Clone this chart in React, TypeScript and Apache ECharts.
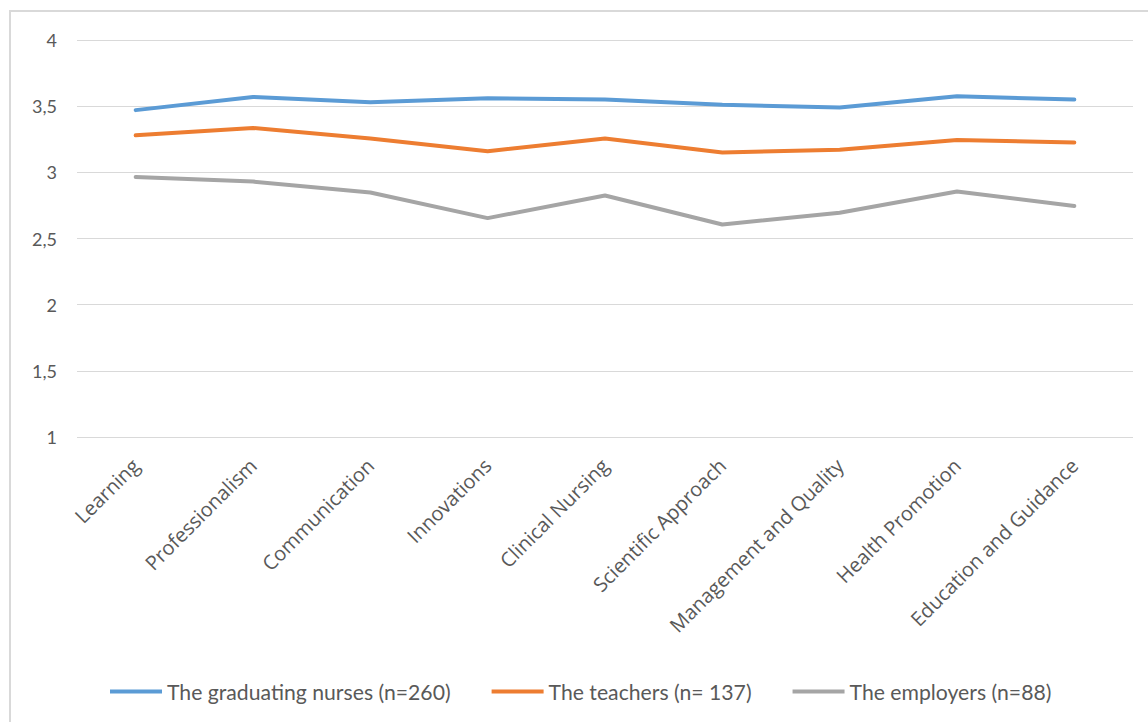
import React, { useEffect, useRef } from "react";
import * as echarts from "echarts";

const categories = [
  "Learning",
  "Professionalism",
  "Communication",
  "Innovations",
  "Clinical Nursing",
  "Scientific Approach",
  "Management and Quality",
  "Health Promotion",
  "Education and Guidance",
];

const nurses = [3.47, 3.57, 3.53, 3.56, 3.55, 3.51, 3.49, 3.575, 3.55];
const teachers = [3.28, 3.335, 3.255, 3.16, 3.255, 3.15, 3.17, 3.245, 3.225];
const employers = [2.965, 2.93, 2.848, 2.654, 2.825, 2.606, 2.695, 2.855, 2.745];

const seriesNames = [
  "The graduating nurses (n=260)",
  "The teachers (n= 137)",
  "The employers (n=88)",
];
const colors = ["#5b9bd5", "#ed7d31", "#a5a5a5"];

export default function App() {
  const ref = useRef<HTMLDivElement>(null);
  useEffect(() => {
    if (!ref.current) return;
    const chart = echarts.init(ref.current, null, { renderer: "svg" });
    const data = [nurses, teachers, employers];
    chart.setOption({
      animation: false,
      backgroundColor: "#ffffff",
      textStyle: { fontFamily: "Lato, 'Open Sans', sans-serif" },
      graphic: [
        {
          type: "rect",
          silent: true,
          shape: { x: 10, y: 11, width: 1300, height: 900 },
          style: { fill: "none", stroke: "#d9d9d9", lineWidth: 2 },
        },
      ],
      grid: { left: 77, right: 15, top: 40, bottom: 285, containLabel: false },
      legend: {
        top: 676,
        left: 105,
        itemWidth: 52,
        itemHeight: 4,
        itemGap: 41,
        icon: "rect",
        data: seriesNames,
        textStyle: {
          color: "#595959",
          fontSize: 21.2,
          fontFamily: "Lato, sans-serif",
        },
      },
      xAxis: {
        type: "category",
        data: categories,
        boundaryGap: true,
        axisLine: { show: false },
        axisTick: { show: false },
        axisLabel: {
          rotate: 45,
          interval: 0,
          margin: 25,
          color: "#595959",
          fontSize: 20,
          fontFamily: "'Open Sans', sans-serif",
        },
      },
      yAxis: {
        type: "value",
        min: 1,
        max: 4,
        interval: 0.5,
        axisLine: { show: false },
        axisTick: { show: false },
        splitLine: { lineStyle: { color: "#d9d9d9", width: 1 } },
        axisLabel: {
          margin: 20,
          color: "#595959",
          fontSize: 18,
          formatter: (v: number) => String(v).replace(".", ","),
        },
      },
      series: data.map((d, i) => ({
        name: seriesNames[i],
        type: "line",
        data: d,
        symbol: "none",
        color: colors[i],
        lineStyle: { width: 4, color: colors[i], join: "round", cap: "round" },
      })),
    });
    return () => chart.dispose();
  }, []);
  return (
    <div
      ref={ref}
      style={{ position: "fixed", left: 0, top: 0, width: 1148, height: 722 }}
    />
  );
}
